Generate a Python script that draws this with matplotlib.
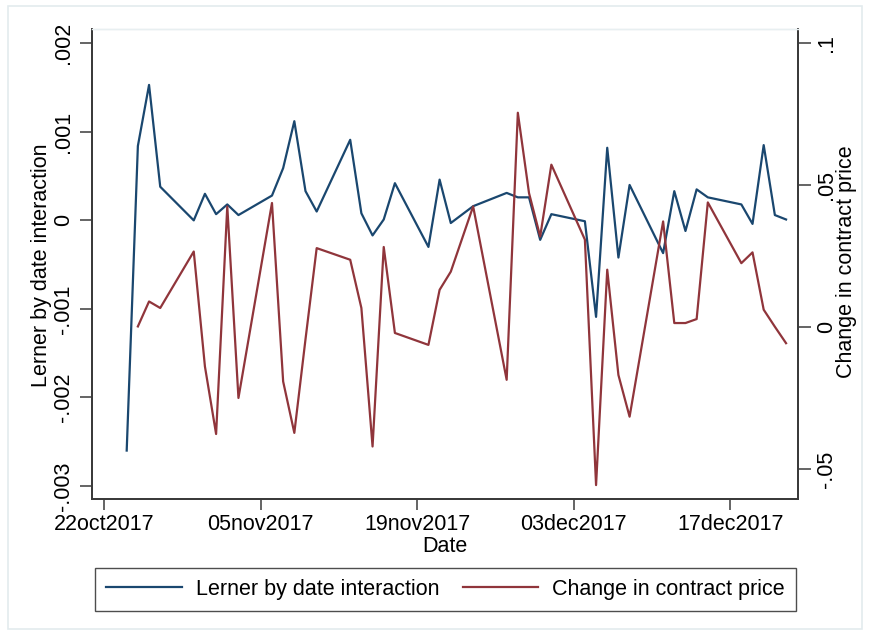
import matplotlib
matplotlib.use("Agg")
import matplotlib.pyplot as plt
import matplotlib.dates as mdates
from matplotlib.ticker import FixedLocator, FuncFormatter
from matplotlib.lines import Line2D
from matplotlib.patches import Rectangle
import numpy as np
import datetime as dt

plt.rcParams['font.family'] = ['Liberation Sans', 'DejaVu Sans']

# Trading days
dates = [
    "2017-10-24", "2017-10-25", "2017-10-26", "2017-10-27", "2017-10-30", "2017-10-31",
    "2017-11-01", "2017-11-02", "2017-11-03", "2017-11-06", "2017-11-07", "2017-11-08",
    "2017-11-09", "2017-11-10", "2017-11-13", "2017-11-14", "2017-11-15", "2017-11-16",
    "2017-11-17", "2017-11-20", "2017-11-21", "2017-11-22", "2017-11-24", "2017-11-27",
    "2017-11-28", "2017-11-29", "2017-11-30", "2017-12-01", "2017-12-04", "2017-12-05",
    "2017-12-06", "2017-12-07", "2017-12-08", "2017-12-11", "2017-12-12", "2017-12-13",
    "2017-12-14", "2017-12-15", "2017-12-18", "2017-12-19", "2017-12-20", "2017-12-21",
    "2017-12-22",
]

# Lerner index x date interaction (left axis)
lerner = [
    -0.00260, 0.00084, 0.00153, 0.00038, 0.00000, 0.00030,
    0.00007, 0.00018, 0.00006, 0.00028, 0.00059, 0.00112,
    0.00033, 0.00010, 0.00091, 0.00008, -0.00017, 0.00001,
    0.00042, -0.00030, 0.00046, -0.00003, 0.00016, 0.00031,
    0.00026, 0.00026, -0.00022, 0.00007, -0.00001, -0.00109,
    0.00082, -0.00042, 0.00040, -0.00037, 0.00033, -0.00012,
    0.00035, 0.00026, 0.00018, -0.00004, 0.00085, 0.00006,
    0.00001,
]

# Daily change in contract price (right axis); first day has no prior price
price_change = [
    np.nan, 0.0003, 0.0091, 0.0068, 0.0267, -0.0138,
    -0.0376, 0.0426, -0.0249, 0.0438, -0.0191, -0.0372,
    -0.0042, 0.0279, 0.0238, 0.0068, -0.0420, 0.0283,
    -0.0020, -0.0062, 0.0132, 0.0196, 0.0426, -0.0185,
    0.0756, 0.0473, 0.0320, 0.0573, 0.0309, -0.0556,
    0.0203, -0.0168, -0.0315, 0.0373, 0.0015, 0.0015,
    0.0029, 0.0440, 0.0226, 0.0264, 0.0062, 0.0002,
    -0.0056,
]

x_ticks = ["2017-10-22", "2017-11-05", "2017-11-19", "2017-12-03", "2017-12-17"]
left_ticks = [-0.003, -0.002, -0.001, 0.0, 0.001, 0.002]
right_ticks = [-0.05, 0.0, 0.05, 0.1]

series_labels = ["Lerner by date interaction", "Change in contract price"]

BLUE = "#1a476f"
RED = "#90353b"
AXIS = "#3a3a3a"
FS = 15.5

W, H = 870, 635
fig = plt.figure(figsize=(W / 100, H / 100), dpi=100)
fig.patch.set_facecolor("white")

# faint outer graph-region border
fig.add_artist(Rectangle((8 / W, 1 - 629 / H), (862 - 8) / W, (629 - 6) / H,
                         transform=fig.transFigure, fill=False,
                         edgecolor="#e3ebee", lw=1.2))

x0, x1 = 92, 798
y0, y1 = 29.3, 499
ax = fig.add_axes([x0 / W, 1 - y1 / H, (x1 - x0) / W, (y1 - y0) / H])
ax2 = ax.twinx()

d = [dt.datetime.strptime(s, "%Y-%m-%d") for s in dates]
ax.plot(d, lerner, color=BLUE, lw=1.6, zorder=3)
ax2.plot(d, price_change, color=RED, lw=1.6, zorder=3)

base = dt.datetime(2017, 10, 22)
ax.set_xlim(mdates.date2num(base) - 1.105, mdates.date2num(base) + 62.07)
ax.set_ylim(-0.003147, 0.002158)
ax2.set_ylim(-0.0605, 0.1050)


def short_num(v, _=None):
    if abs(v) < 1e-12:
        return "0"
    s = ("%g" % v)
    s = s.replace("0.", ".")
    return s


xt = [dt.datetime.strptime(s, "%Y-%m-%d") for s in x_ticks]
ax.xaxis.set_major_locator(FixedLocator(mdates.date2num(xt)))
ax.xaxis.set_major_formatter(FuncFormatter(
    lambda v, _: mdates.num2date(v).strftime("%d%b%Y").lower()))
ax.yaxis.set_major_locator(FixedLocator(left_ticks))
ax.yaxis.set_major_formatter(FuncFormatter(short_num))
ax2.yaxis.set_major_locator(FixedLocator(right_ticks))
ax2.yaxis.set_major_formatter(FuncFormatter(short_num))

for a in (ax, ax2):
    for side in ("left", "right", "bottom"):
        a.spines[side].set_color(AXIS)
        a.spines[side].set_linewidth(1.3)
    a.spines["top"].set_color("#e8eff1")
    a.spines["top"].set_linewidth(1.0)

ax.tick_params(axis="x", length=8, width=1.1, color=AXIS, pad=3, labelsize=FS)
ax.tick_params(axis="y", length=9, width=1.1, color=AXIS, pad=4, labelsize=FS)
ax2.tick_params(axis="y", length=9, width=1.1, color=AXIS, pad=4, labelsize=FS)
for lab in ax.get_yticklabels():
    lab.set_rotation(90)
    lab.set_va("center")
for lab in ax2.get_yticklabels():
    lab.set_rotation(90)
    lab.set_va("center")

ax.set_xlabel("Date", fontsize=FS)
ax.xaxis.set_label_coords((445 - x0) / (x1 - x0), (y1 - 546) / (y1 - y0))
ax.xaxis.label.set_va("center")
ax.set_ylabel(series_labels[0], fontsize=FS)
ax.yaxis.set_label_coords((42 - x0) / (x1 - x0), (y1 - 265) / (y1 - y0))
ax.yaxis.label.set_va("center")
ax2.set_ylabel("Change in contract price", fontsize=FS, rotation=90)
ax2.yaxis.set_label_coords((846 - x0) / (x1 - x0), (y1 - 262) / (y1 - y0))
ax2.yaxis.label.set_va("center")

handles = [Line2D([], [], color=BLUE, lw=1.6), Line2D([], [], color=RED, lw=1.6)]
leg = fig.legend(handles, series_labels, loc="center",
                 bbox_to_anchor=(445.5 / W, 1 - 589.5 / H), ncol=2,
                 fontsize=FS, frameon=True, fancybox=False,
                 handlelength=3.5, handletextpad=0.65, columnspacing=1.1,
                 borderpad=0.5, borderaxespad=0)
leg.get_frame().set_edgecolor("#222222")
leg.get_frame().set_linewidth(1.0)

fig.savefig("out.png", dpi=100, facecolor="white")
